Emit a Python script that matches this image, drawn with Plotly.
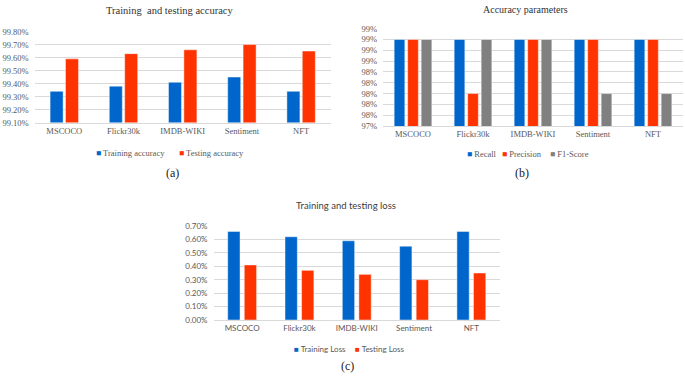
import plotly.graph_objects as go

categories = ["MSCOCO", "Flickr30k", "IMDB-WIKI", "Sentiment", "NFT"]

# (a) Training and testing accuracy (fractions)
train_acc = [0.9934, 0.9938, 0.9941, 0.9945, 0.9934]
test_acc = [0.9959, 0.9963, 0.9966, 0.9970, 0.9965]

# (b) Accuracy parameters (fractions)
recall = [0.99, 0.99, 0.99, 0.99, 0.99]
precision = [0.99, 0.98, 0.99, 0.99, 0.99]
f1_score = [0.99, 0.99, 0.99, 0.98, 0.98]

# (c) Training and testing loss (fractions)
train_loss = [0.0066, 0.0062, 0.0059, 0.0055, 0.0066]
test_loss = [0.0041, 0.0037, 0.0034, 0.0030, 0.0035]

BLUE = "#0066CC"
RED = "#FF3300"
GRAY = "#808080"
SERIF = "Times New Roman, Liberation Serif, serif"
SANS = "Lato, Liberation Sans, sans-serif"
TICKC = "#595959"
GRID = "#D9D9D9"
W, H = 685, 380
EPS = 1e-7

def px(x):
    return x / W

def py(y):
    return 1 - y / H

fig = go.Figure()

edge = dict(width=1, color="rgba(255,255,255,0.45)")

# panel a
for name, vals, col, off, wd in [("Training accuracy", train_acc, BLUE, -0.24, 0.22),
                                 ("Testing accuracy", test_acc, RED, 0.02, 0.22)]:
    fig.add_trace(go.Bar(x=categories, y=vals, name=name, marker=dict(color=col, line=edge),
                         offset=off, width=wd, xaxis="x", yaxis="y", showlegend=False))
# panel b
for name, vals, col, off in [("Recall", recall, BLUE, -0.314),
                             ("Precision", precision, RED, -0.089),
                             ("F1-Score", f1_score, GRAY, 0.136)]:
    fig.add_trace(go.Bar(x=categories, y=vals, name=name, marker=dict(color=col, line=edge),
                         offset=off, width=0.178, xaxis="x2", yaxis="y2", showlegend=False))
# panel c
for name, vals, col, off in [("Training Loss", train_loss, BLUE, -0.252),
                             ("Testing Loss", test_loss, RED, 0.037)]:
    fig.add_trace(go.Bar(x=categories, y=vals, name=name, marker=dict(color=col, line=edge),
                         offset=off, width=0.215, xaxis="x3", yaxis="y3", showlegend=False))

def xax(dom, anchor, font, size):
    return dict(domain=[px(dom[0]), px(dom[1])], anchor=anchor, range=[-0.5, 4.5],
                showgrid=False, showline=True, linecolor=GRID, linewidth=1,
                ticks="", tickfont=dict(family=font, size=size, color=TICKC), fixedrange=True)

def yax(dom, anchor, rng, dtick, fmt, font, size):
    return dict(domain=[py(dom[1]), py(dom[0])], anchor=anchor,
                range=[rng[0] - EPS, rng[1] + EPS], dtick=dtick,
                tick0=rng[0], tickformat=fmt, showgrid=True, gridcolor=GRID, gridwidth=1,
                zeroline=False, showline=False, ticks="", ticklabelstandoff=5,
                tickfont=dict(family=font, size=size, color=TICKC), fixedrange=True)

fig.update_layout(
    width=W, height=H, margin=dict(l=0, r=0, t=0, b=0),
    paper_bgcolor="white", plot_bgcolor="white",
    barmode="overlay",
    xaxis=xax((34.7, 330.7), "y", SERIF, 8.5),
    yaxis=yax((27.3, 120.7), "x", [0.991, 0.998], 0.001, ".2%", SERIF, 8.5),
    xaxis2=xax((383, 683), "y2", SERIF, 8.5),
    yaxis2=yax((24.3, 124.3), "x2", [0.974, 0.992], 0.002, ".0%", SERIF, 8.5),
    xaxis3=xax((213.5, 500), "y3", SANS, 8),
    yaxis3=yax((227, 323.5), "x3", [0, 0.007], 0.001, ".2%", SANS, 8),
)

ann = []
def text(x, y, t, font, size, color="#404040"):
    ann.append(dict(x=px(x), y=py(y), xref="paper", yref="paper", text=t, showarrow=False,
                    xanchor="center", yanchor="middle", font=dict(family=font, size=size, color=color)))

# titles
text(169, 6, "Training  and testing accuracy", SERIF, 10.5, "#333333")
text(525, 5, "Accuracy parameters", SERIF, 10, "#333333")
text(346, 206, "Training and testing loss", SANS, 9.5, "#404040")

# captions
text(172, 173, "(a)", SERIF, 12, "#222222")
text(522, 173, "(b)", SERIF, 12, "#222222")
text(348, 371, "(c)", SERIF, 12, "#222222")

# legends
def legend_item(x, y, name, color, font, size):
    ann.append(dict(x=px(x), y=py(y), xref="paper", yref="paper",
                    text=f"<span style='color:{color}'>■</span> {name}", showarrow=False,
                    xanchor="left", yanchor="middle", font=dict(family=font, size=size, color=TICKC)))

legend_item(94, 152, "Training accuracy", BLUE, SERIF, 8.5)
legend_item(177, 152, "Testing accuracy", RED, SERIF, 8.5)
legend_item(465, 153, "Recall", BLUE, SERIF, 8.5)
legend_item(500, 153, "Precision", RED, SERIF, 8.5)
legend_item(548, 153, "F1-Score", GRAY, SERIF, 8.5)
legend_item(292, 353, "Training Loss", BLUE, SANS, 8)
legend_item(353, 353, "Testing Loss", RED, SANS, 8)

fig.update_layout(annotations=ann)
fig.write_html("out.html", config={"displayModeBar": False},
               post_script="document.body.style.margin='0';document.body.style.padding='0';")
